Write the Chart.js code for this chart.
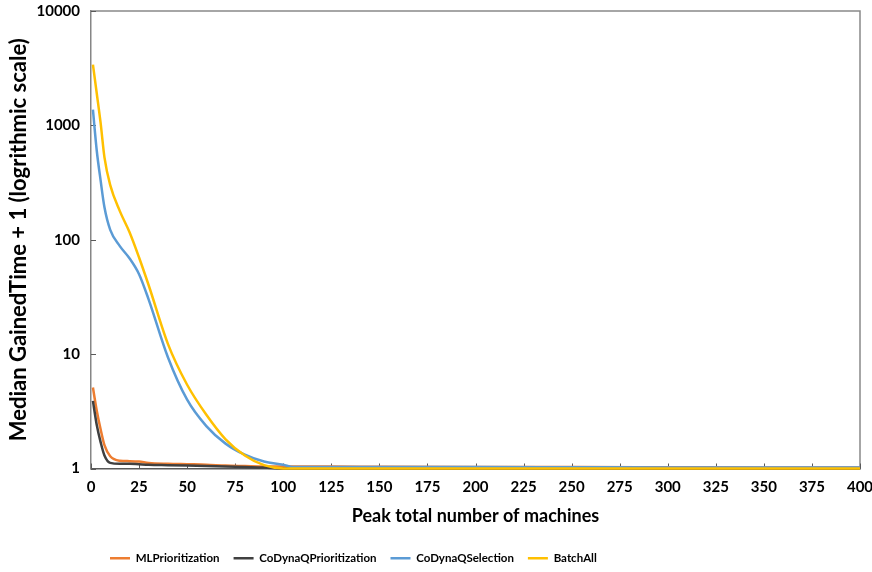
<!DOCTYPE html>
<html>
<head>
<meta charset="utf-8">
<script src="https://cdn.jsdelivr.net/npm/chart.js@4.4.1/dist/chart.umd.min.js"></script>
<style>
  html, body { margin: 0; padding: 0; background: #fff; }
  #wrap { width: 872px; height: 572px; }
</style>
</head>
<body>
<div id="wrap"><canvas id="my-chart"></canvas></div>
<script>
// data
const machines = [1, 3, 5, 7, 10, 15, 20, 25, 30, 40, 50, 60, 70, 80, 90, 100, 105, 125, 150, 200, 250, 300, 350, 400]

const mlPrioritization =      [5.1, 3.2, 2.2, 1.6, 1.28, 1.17, 1.16, 1.15, 1.12, 1.1, 1.09, 1.08, 1.06, 1.05, 1.04, 1.04, 1.04, 1.04, 1.035, 1.03, 1.03, 1.025, 1.02, 1.02]
const coDynaQPrioritization = [3.9, 2.4, 1.7, 1.3, 1.12, 1.1, 1.1, 1.09, 1.08, 1.07, 1.06, 1.05, 1.04, 1.03, 1.02, 1.0, 1.0, 1.0, 1.0, 1.0, 1.0, 1.0, 1.0, 1.0]
const coDynaQSelection =      [1370, 600, 330, 192, 122, 88, 69, 50, 30, 9.4, 4.0, 2.35, 1.65, 1.32, 1.15, 1.08, 1.03, 1.03, 1.03, 1.03, 1.025, 1.02, 1.02, 1.02]
const batchAll =              [3400, 1900, 1050, 525, 300, 178, 117, 70, 40, 12.3, 5.4, 2.95, 1.8, 1.3, 1.07, 1.0, 1.0, 1.0, 1.0, 1.0, 1.0, 1.0, 1.0, 1.0]

const xTicks = [0, 25, 50, 75, 100, 125, 150, 175, 200, 225, 250, 275, 300, 325, 350, 375, 400]
const yTicks = [1, 10, 100, 1000, 10000]

const FONT = 'Lato, "Open Sans", sans-serif'

const toPoints = (ys) => machines.map((x, i) => ({ x: x, y: ys[i] }))

const series = (label, ys, color, order) => ({
  label: label,
  data: toPoints(ys),
  borderColor: color,
  backgroundColor: color,
  borderWidth: 2.5,
  pointRadius: 0,
  showLine: true,
  cubicInterpolationMode: 'monotone',
  clip: 4,
  order: order,
})

// frame on top/right and the little inward tick marks
const frame = {
  id: 'frame',
  beforeDatasetsDraw(chart) {
    const { ctx, chartArea: a, scales } = chart
    ctx.save()
    ctx.strokeStyle = '#898989'
    ctx.lineWidth = 1.5
    ctx.beginPath()
    ctx.moveTo(a.left, a.top)
    ctx.lineTo(a.right, a.top)
    ctx.lineTo(a.right, a.bottom)
    ctx.stroke()

    ctx.lineWidth = 1
    ctx.strokeStyle = '#595959'
    ctx.beginPath()
    xTicks.forEach(v => {
      const px = Math.round(scales.x.getPixelForValue(v)) + 0.5
      ctx.moveTo(px, a.bottom)
      ctx.lineTo(px, a.bottom - 5)
    })
    yTicks.forEach(v => {
      const py = Math.round(scales.y.getPixelForValue(v)) + 0.5
      ctx.moveTo(a.left, py)
      ctx.lineTo(a.left + 5, py)
    })
    ctx.stroke()
    ctx.restore()
  },
  // legend in the picture sits left of centre and a bit lower
  afterLayout(chart) {
    const lg = chart.legend
    if (lg) {
      lg.left = 110 - lg.options.labels.padding
      lg.top += 2
    }
  },
}

const data = {
  datasets: [
    series('MLPrioritization', mlPrioritization, '#ED7D31', 3),
    series('CoDynaQPrioritization', coDynaQPrioritization, '#404040', 2),
    series('CoDynaQSelection', coDynaQSelection, '#5B9BD5', 1),
    series('BatchAll', batchAll, '#FFC000', 0),
  ]
}

const options = {
  responsive: true,
  maintainAspectRatio: false,
  animation: false,
  layout: { padding: 0 },
  plugins: {
    tooltip: { enabled: false },
    legend: {
      position: 'bottom',
      align: 'start',
      labels: {
        usePointStyle: true,
        pointStyle: 'line',
        pointStyleWidth: 20,
        padding: 14,
        color: '#000',
        font: { family: FONT, size: 11.5, weight: 'bold' },
        sort: (a, b) => a.datasetIndex - b.datasetIndex,
      }
    }
  },
  scales: {
    x: {
      type: 'linear',
      min: 0,
      max: 400,
      afterBuildTicks: (scale) => { scale.ticks = xTicks.map(v => ({ value: v })) },
      afterFit: (scale) => {
        scale.height = 68
        scale.paddingLeft = 0
        scale.paddingRight = 12
      },
      grid: { display: false, drawTicks: false },
      border: { display: true, color: '#595959', width: 1.5 },
      ticks: {
        autoSkip: false,
        maxRotation: 0,
        padding: 10,
        color: '#000',
        font: { family: FONT, size: 15, weight: 'bold' },
      },
      title: {
        display: true,
        text: 'Peak total number of machines',
        color: '#000',
        font: { family: FONT, size: 18, weight: 'bold' },
        padding: { top: 0, bottom: 10 },
      }
    },
    y: {
      type: 'logarithmic',
      min: 1,
      max: 10000,
      afterBuildTicks: (scale) => { scale.ticks = yTicks.map(v => ({ value: v })) },
      afterFit: (scale) => {
        scale.width = 91
        scale.paddingTop = 11
        scale.paddingBottom = 0
      },
      grid: { display: false, drawTicks: false },
      border: { display: true, color: '#868686', width: 1.5 },
      ticks: {
        padding: 11,
        color: '#000',
        font: { family: FONT, size: 15, weight: 'bold' },
        callback: (value) => String(value),
      },
      title: {
        display: true,
        text: 'Median GainedTime + 1 (logrithmic scale)',
        color: '#000',
        font: { family: FONT, size: 22, weight: 'bold' },
        padding: { top: 6, bottom: 0 },
      }
    }
  }
}

const config = {
  type: 'scatter',
  data: data,
  options: options,
  plugins: [frame],
}

const ctx = document.getElementById('my-chart').getContext('2d')
const myChart = new Chart(ctx, config)
</script>
</body>
</html>
